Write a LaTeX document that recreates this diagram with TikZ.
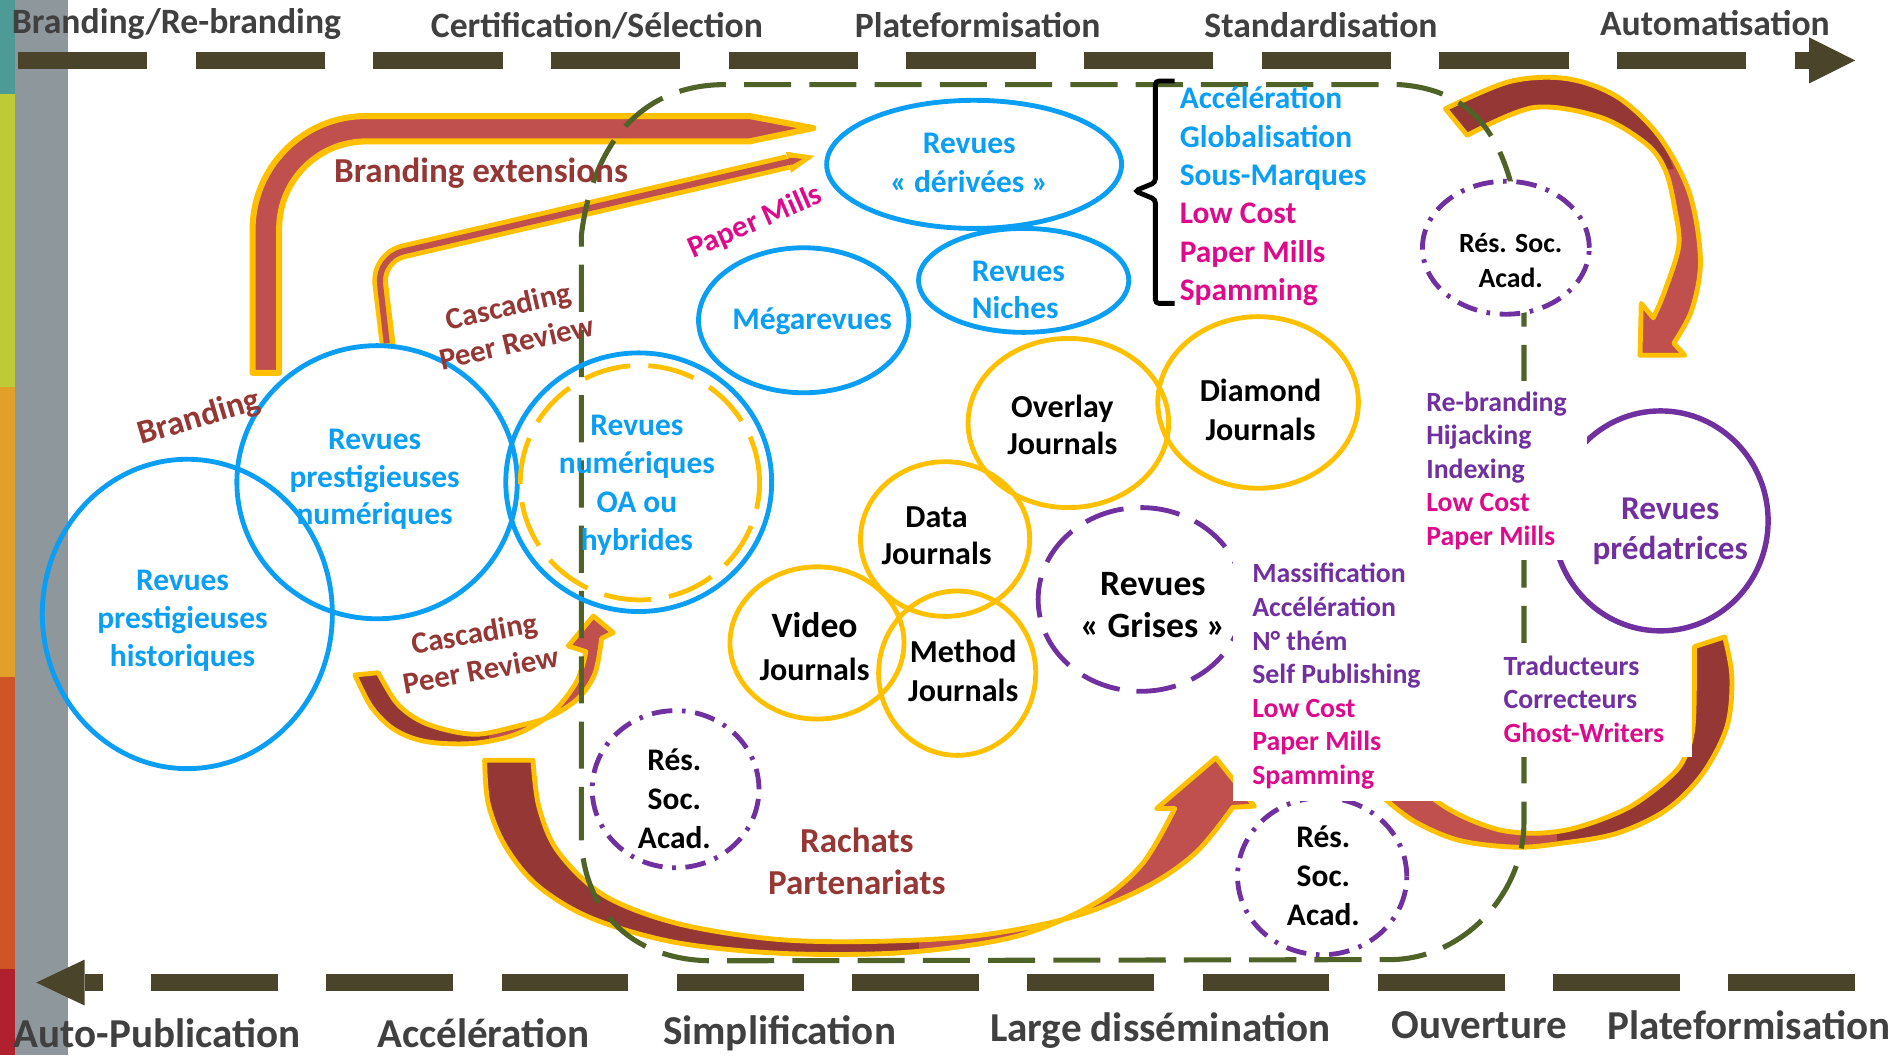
\documentclass[tikz,border=0pt]{standalone}
\usepackage{fontspec}
\setmainfont{Carlito}
\usetikzlibrary{shapes.geometric}
\definecolor{cteal}{HTML}{4E9A97}
\definecolor{clime}{HTML}{BFCA37}
\definecolor{corange}{HTML}{E2A02B}
\definecolor{crorange}{HTML}{CF5526}
\definecolor{cdeep}{HTML}{B1202E}
\definecolor{cstrip}{HTML}{8E979B}
\definecolor{carrow}{HTML}{4A452A}
\definecolor{ctext}{HTML}{404040}
\definecolor{cgreen}{HTML}{4F6228}
\definecolor{cblue}{HTML}{0A9EF5}
\definecolor{cgold}{HTML}{FFC000}
\definecolor{cred}{HTML}{C0504D}
\definecolor{cdred}{HTML}{953735}
\definecolor{ctred}{HTML}{953735}
\definecolor{cmag}{HTML}{DE0A8C}
\definecolor{cpur}{HTML}{7030A0}
\newcommand\fsz[2]{\fontsize{#1}{#2}\selectfont\bfseries}
\def\arrC{plot[smooth,tension=0.55] coordinates {(293.7,558.5) (307.5,585.3) (326.8,604.0) (353.0,613.7) (391.6,615.1) (427.5,607.3) (456.4,590.2) (477.1,564.0) (484.8,539.2)} -- (470.2,534.5) -- (490.9,509.7) -- (507.5,523.5) -- (497.8,528.2) -- plot[smooth,tension=0.55] coordinates {(497.8,528.2) (492.3,557.2) (478.5,577.8) (455.1,593.0) (427.5,600.9) (397.1,607.4) (372.3,604.7) (347.5,596.4) (328.2,581.6) (313.0,556.6)} -- cycle}
\def\arrD{plot[smooth,tension=0.55] coordinates {(401,629) (404,665) (418,700) (445,733) (490,760) (560,780) (650,789) (750,788) (840,775) (905,748) (945,715) (972,669)} -- (957,669) -- (1006,627) -- (1038,667) -- (1020,668) -- plot[smooth,tension=0.55] coordinates {(1020,668) (990,705) (950,733) (890,758) (810,774) (720,779) (640,777) (560,764) (500,741) (462,705) (446,668) (441,629)} -- cycle}
\def\arrE{plot[smooth,tension=0.55] coordinates {(1196,90) (1249,67.5) (1296,65) (1338,80) (1373,113) (1398,160) (1407,215) (1400,256) (1385,284)} -- (1394,294) -- (1357,294) -- (1358,251) -- (1368,263) -- plot[smooth,tension=0.55] coordinates {(1368,263) (1377,242) (1389,204) (1386,174) (1378,141) (1362,119) (1324,97) (1269,89) (1214,112)} -- cycle}
\def\arrF{plot[smooth,tension=0.55] coordinates {(1427,527) (1433,560) (1429,601) (1409,640) (1379,670) (1338,689.5) (1293.5,697.5) (1255,701) (1208,695.5) (1172,680.6) (1147,662) (1130,645)} -- (1165,640) -- plot[smooth,tension=0.55] coordinates {(1165,640) (1189,663) (1213.5,677) (1241,686.7) (1268.7,689.5) (1296.3,686.7) (1324,678.4) (1351.4,666) (1379,645.3) (1393,628.8) (1401,600) (1402,535)} -- cycle}
\begin{document}
\begin{tikzpicture}[x=1pt,y=-1pt,
  lbl/.style={inner sep=0pt, align=center},
  bline/.style={draw=cblue, line width=4pt, inner sep=0pt},
  gline/.style={draw=cgold, line width=4pt, inner sep=0pt},
  resline/.style={draw=cpur, fill=white, line width=4pt, inner sep=0pt, dash pattern=on 17pt off 8pt on 3pt off 8pt},
  arrline/.style={draw=cgold, line width=4pt, line join=round}]
\useasboundingbox (0,0) rectangle (1568,873);
% left strip
\fill[cteal] (0,0) rectangle (12.4,78);
\fill[clime] (0,78) rectangle (12.4,320);
\fill[corange] (0,320) rectangle (12.4,560);
\fill[crorange] (0,560) rectangle (12.4,802);
\fill[cdeep] (0,802) rectangle (12.4,873);
\fill[cstrip] (12.4,0) rectangle (56,873);
% top and bottom timeline arrows
\coordinate (topS) at (15,50);
\coordinate (topE) at (1497,50);
\draw[carrow, line width=13.5pt, dash pattern=on 107pt off 40pt] (topS) -- (topE);
\fill[carrow] (1497,31) -- (1535,50) -- (1497,69) -- cycle;
\coordinate (botS) at (1535,813);
\coordinate (botE) at (70,813);
\draw[carrow, line width=13.5pt, dash pattern=on 105pt off 40pt] (botS) -- (botE);
\fill[carrow] (70,794) -- (30,813) -- (70,832) -- cycle;
% branding extensions arrow
\path[fill=cred, draw=cgold, line width=5pt, line join=round] (209,308.5) -- (209,190) arc[start angle=180, end angle=270, radius=94] -- (620,96) -- (673,106) -- (620,117) -- (303,117) arc[start angle=270, end angle=180, radius=72] -- (231,308.5) -- cycle;
% upper cascading arrow
\draw[cgold, line width=13pt, rounded corners=22pt] (321,287) -- (312,213) -- (652,134);
\fill[cgold] (650.3,125.6) -- (674,129) -- (654.5,143) -- cycle;
\draw[cred, line width=5pt, rounded corners=22pt] (320,284) -- (312,213) -- (655,133.4);
\fill[cred] (653,130.5) -- (664,131.5) -- (655,136.5) -- cycle;
% lower cascading arrow
\fill[cred] \arrC;
\begin{scope}\clip \arrC; \fill[cdred] (280,500) rectangle (405,640);\end{scope}
\draw[arrline] \arrC;
% big rachats arrow
\fill[cred] \arrD;
\begin{scope}\clip \arrD; \fill[cdred] (390,600) rectangle (760,800);\end{scope}
\draw[arrline] \arrD;
% top right arrow
\fill[cred] \arrE;
\begin{scope}\clip \arrE; \fill[cdred] (1150,40) -- (1345,40) -- (1385,140) -- (1150,140) -- cycle;\end{scope}
\draw[arrline] \arrE;
% bottom right arrow
\fill[cred] \arrF;
\begin{scope}\clip \arrF; \fill[cdred] (1288,500) rectangle (1450,720);\end{scope}
\draw[arrline] \arrF;
% green dashed frame
\draw[cgreen, line width=4.2pt, dash pattern=on 39pt off 15pt] (481,690) -- (481,195) .. controls (490,120) and (530,70) .. (600,70) -- (1158,70) .. controls (1225,75) and (1261,120) .. (1261,255) -- (1261,680) .. controls (1261,740) and (1210,794) .. (1150,794) -- (590,795) .. controls (520,795) and (481,750) .. (481,690) -- cycle;
% brace
\draw[black, line width=4pt, rounded corners=3pt] (972,67) -- (956,67) -- (956,151) -- (939,158) -- (956,165) -- (956,251) -- (972,251);
% circles
\node[ellipse, bline, minimum width=240pt, minimum height=256pt] (eHist) at (155,508) {};
\node[ellipse, bline, minimum width=232pt, minimum height=226pt] (eNum) at (312,399) {};
\node[ellipse, bline, minimum width=220pt, minimum height=214pt] (eOA) at (528.5,399) {};
\node[ellipse, gline, dash pattern=on 39pt off 15pt, minimum width=198pt, minimum height=194pt] (eOAg) at (529.5,399.4) {};
\node[ellipse, bline, minimum width=174pt, minimum height=120pt] (eMega) at (665,265) {};
\node[ellipse, bline, minimum width=244pt, minimum height=106pt] (eDer) at (806,136) {};
\node[ellipse, bline, minimum width=174pt, minimum height=86pt] (eNich) at (847,232) {};
\node[ellipse, gline, minimum width=166pt, minimum height=140pt] (eOver) at (884,350) {};
\node[ellipse, gline, minimum width=166pt, minimum height=142pt] (eDiam) at (1041,333) {};
\node[ellipse, gline, minimum width=140pt, minimum height=128pt] (eData) at (782,446) {};
\node[ellipse, gline, minimum width=144pt, minimum height=126pt] (eVid) at (676,532) {};
\node[ellipse, gline, minimum width=130pt, minimum height=136pt] (eMeth) at (792,557) {};
\node[ellipse, draw=cpur, line width=4pt, inner sep=0pt, dash pattern=on 33pt off 14pt, minimum width=170pt, minimum height=152pt] (eGris) at (944,496) {};
\node[ellipse, draw=cpur, line width=4.5pt, inner sep=0pt, minimum width=178pt, minimum height=182pt] (ePred) at (1374,431) {};
\node[ellipse, resline, minimum width=138pt, minimum height=110pt] (eRes1) at (1246,205) {};
\node[ellipse, resline, minimum width=138pt, minimum height=130pt] (eRes2) at (559,653) {};
\node[ellipse, resline, minimum width=140pt, minimum height=130pt] (eRes3) at (1094,725) {};
% white text boxes
\fill[white] (1175,315) rectangle (1313,463);
\fill[white] (1238,532) rectangle (1400,626);
\fill[white] (1020,458) rectangle (1195,663);
% top and bottom labels
\node[lbl, font=\fsz{29.5}{34}, text=ctext] (t1) at (146,20) {Branding/Re-branding};
\node[lbl, font=\fsz{29.5}{34}, text=ctext] (t2) at (494,21) {Certification/Sélection};
\node[lbl, font=\fsz{29.5}{34}, text=ctext] (t3) at (809,21) {Plateformisation};
\node[lbl, font=\fsz{29.5}{34}, text=ctext] (t4) at (1093,21) {Standardisation};
\node[lbl, font=\fsz{29.5}{34}, text=ctext] (t5) at (1419,19) {Automatisation};
\node[lbl, font=\fsz{34}{40}, text=ctext] (b1) at (130,855) {Auto-Publication};
\node[lbl, font=\fsz{34}{40}, text=ctext] (b2) at (400,855) {Accélération};
\node[lbl, font=\fsz{34}{40}, text=ctext] (b3) at (645,855) {Simplification};
\node[lbl, font=\fsz{34}{40}, text=ctext] (b4) at (960,853) {Large dissémination};
\node[lbl, font=\fsz{34}{40}, text=ctext] (b5) at (1224,848) {Ouverture};
\node[lbl, font=\fsz{34}{40}, text=ctext] (b6) at (1447,848) {Plateformisation};
% circle labels
\node[lbl, font=\fsz{26}{31.5}, text=cblue] (tHist) at (151,513.7) {Revues\\prestigieuses\\historiques};
\node[lbl, font=\fsz{26}{31}, text=cblue] (tNum) at (310,396.7) {Revues\\prestigieuses\\numériques};
\node[lbl, font=\fsz{26}{31.8}, text=cblue] (tOA) at (527,401.7) {Revues\\numériques\\OA ou\\hybrides};
\node[lbl, font=\fsz{26}{31}, text=cblue] (tMega) at (672,266) {Mégarevues};
\node[lbl, font=\fsz{26}{32}, text=cblue] (tDer) at (802,135) {Revues\\«~dérivées~»};
\node[lbl, align=left, anchor=west, font=\fsz{26}{31}, text=cblue] (tNich) at (804,240) {Revues\\Niches};
\node[lbl, font=\fsz{26.5}{31}] (tOver) at (879,351.5) {Overlay\\Journals};
\node[lbl, font=\fsz{26.5}{32}] (tDiam) at (1043,339) {Diamond\\Journals};
\node[lbl, font=\fsz{26.5}{31}] (tData) at (775,443.5) {Data\\Journals};
\node[lbl, font=\fsz{26.5}{36}] (tVid) at (674,535) {{\fsz{29.5}{36}Video}\\Journals};
\node[lbl, font=\fsz{26.5}{32}] (tMeth) at (797,555) {Method\\Journals};
\node[lbl, font=\fsz{29.5}{35}] (tGris) at (954,500.5) {Revues\\«~Grises~»};
\node[lbl, font=\fsz{27.5}{33}, text=cpur] (tPred) at (1382,439.5) {Revues\\prédatrices};
\node[lbl, font=\fsz{23}{29}] (tRes1) at (1250,215.5) {Rés. Soc.\\Acad.};
\node[lbl, font=\fsz{26}{32}] (tRes2) at (558,661) {Rés.\\Soc.\\Acad.};
\node[lbl, font=\fsz{26}{32.5}] (tRes3) at (1095,724.7) {Rés.\\Soc.\\Acad.};
% arrow labels
\node[lbl, font=\fsz{29}{35}, text=ctred] (tBrExt) at (398,143) {Branding extensions};
\node[lbl, font=\fsz{28}{34}, text=ctred, rotate=16.5] (tBrand) at (165,346) {Branding};
\node[lbl, font=\fsz{25.5}{31}, text=ctred, rotate=13] (tCasc1) at (424,268) {Cascading\\Peer Review};
\node[lbl, font=\fsz{25.5}{31}, text=ctred, rotate=10] (tCasc2) at (395,539) {Cascading\\Peer Review};
\node[lbl, font=\fsz{25.5}{30}, text=cmag, rotate=23.5] (tPM) at (625,184) {Paper Mills};
\node[lbl, font=\fsz{29}{35}, text=ctred] (tRach) at (709,712.5) {Rachats\\Partenariats};
% lists
\node[lbl, align=left, anchor=west, font=\fsz{26}{31.8}] (lBrace) at (976,162.5) {\textcolor{cblue}{Accélération}\\\textcolor{cblue}{Globalisation}\\\textcolor{cblue}{Sous-Marques}\\\textcolor{cmag}{Low Cost}\\\textcolor{cmag}{Paper Mills}\\\textcolor{cmag}{Spamming}};
\node[lbl, align=left, anchor=west, font=\fsz{23}{27.8}] (lRebr) at (1180,389.5) {\textcolor{cpur}{Re-branding}\\\textcolor{cpur}{Hijacking}\\\textcolor{cpur}{Indexing}\\\textcolor{cmag}{Low Cost}\\\textcolor{cmag}{Paper Mills}};
\node[lbl, align=left, anchor=west, font=\fsz{23}{27.8}] (lMass) at (1036,559.5) {\textcolor{cpur}{Massification}\\\textcolor{cpur}{Accélération}\\\textcolor{cpur}{N° thém}\\\textcolor{cpur}{Self Publishing}\\\textcolor{cmag}{Low Cost}\\\textcolor{cmag}{Paper Mills}\\\textcolor{cmag}{Spamming}};
\node[lbl, align=left, anchor=west, font=\fsz{23}{27.5}] (lTrad) at (1244,578.5) {\textcolor{cpur}{Traducteurs}\\\textcolor{cpur}{Correcteurs}\\\textcolor{cmag}{Ghost-Writers}};
\end{tikzpicture}
\end{document}
